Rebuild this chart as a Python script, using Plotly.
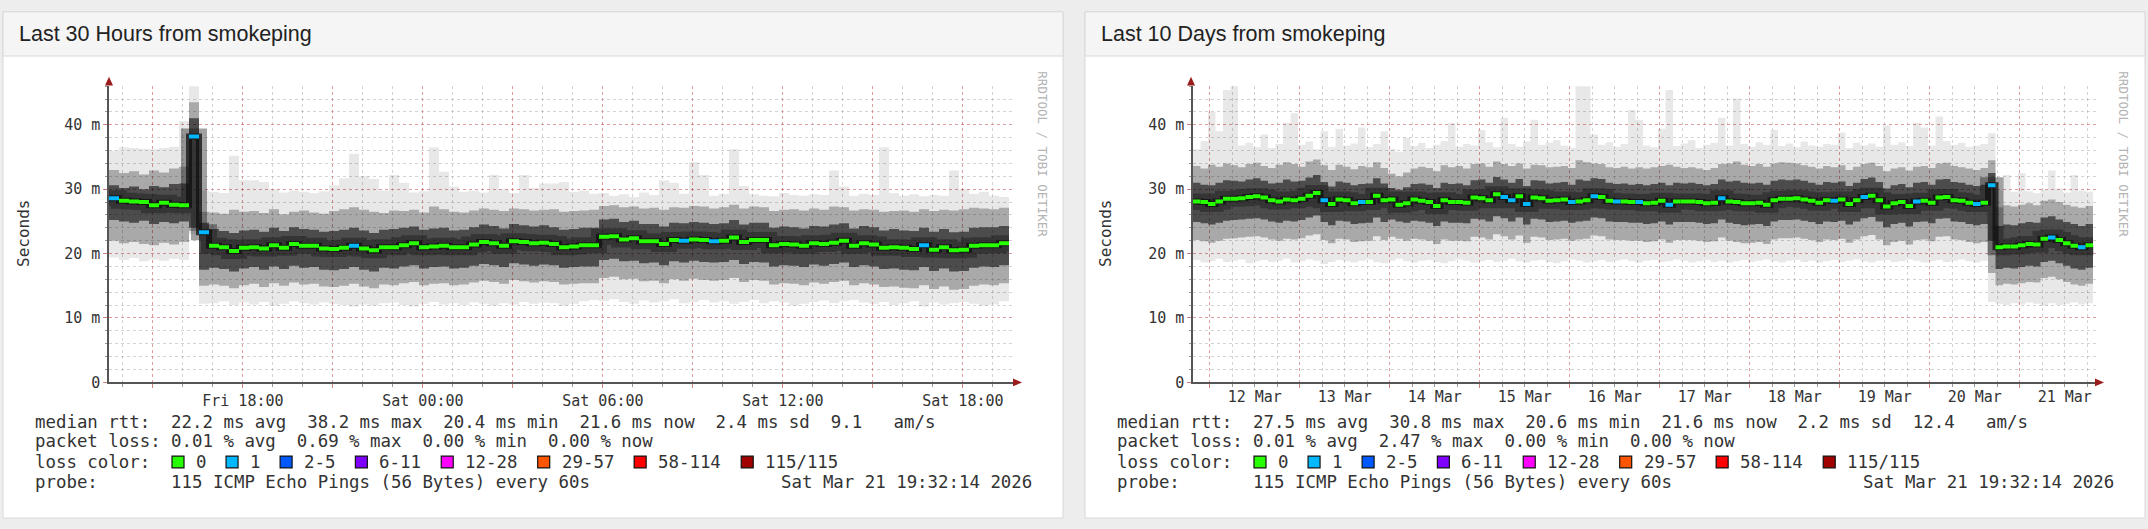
import pandas as pd
import plotly.graph_objects as go

W, H = 2148, 529

def px(x):
    return x / W

def py(y):
    return 1 - y / H

''' Data read off the two smokeping graphs (values in ms) '''
end_time = '2026-03-21 19:32:14'
start_30h = '2026-03-20 13:32:14'   # 20 min steps
start_10d = '2026-03-11 19:32:14'   # 2 h steps

## Last 30 hours
med_30h = [28.6, 28.2, 28.1, 28.0, 27.5, 27.9, 27.6, 27.5, 38.2, 23.3,
           21.2, 21.0, 20.4, 20.9, 21.0, 20.8, 21.3, 20.9, 21.5, 21.2,
           21.2, 20.8, 20.7, 20.9, 21.2, 20.8, 20.5, 21.0, 21.0, 21.3,
           21.6, 21.0, 21.1, 21.2, 21.0, 21.0, 21.4, 21.8, 21.6, 21.2,
           21.9, 21.8, 21.6, 21.7, 21.5, 21.0, 21.1, 21.3, 21.3, 22.6,
           22.7, 22.2, 22.4, 21.9, 21.9, 21.5, 22.1, 22.0, 22.2, 22.1,
           21.9, 22.0, 22.5, 21.8, 22.1, 22.1, 21.3, 21.5, 21.4, 21.2,
           21.6, 21.5, 21.7, 22.0, 21.2, 21.6, 21.4, 20.9, 21.0, 20.9,
           20.7, 21.3, 20.6, 21.0, 20.5, 20.6, 21.2, 21.3, 21.3, 21.6]
loss_30h = [1, 0, 0, 0, 0, 0, 0, 0, 1, 1,
            0, 0, 0, 0, 0, 0, 0, 0, 0, 0,
            0, 0, 0, 0, 1, 0, 0, 0, 0, 0,
            0, 0, 0, 0, 0, 0, 0, 0, 0, 0,
            0, 0, 0, 0, 0, 0, 0, 0, 0, 0,
            0, 0, 0, 0, 0, 0, 0, 1, 0, 0,
            1, 0, 0, 0, 0, 0, 0, 0, 0, 0,
            0, 0, 0, 0, 0, 0, 0, 0, 0, 0,
            0, 1, 0, 0, 0, 0, 0, 0, 0, 0]
hi_30h = [36.0, 36.5, 36.4, 36.3, 36.2, 36.4, 36.6, 40.6, 46.0, 29.8,
          29.6, 29.4, 35.2, 31.4, 31.4, 31.1, 30.0, 29.5, 29.8, 29.6,
          29.4, 29.7, 30.6, 31.7, 35.5, 32.0, 31.6, 29.8, 32.2, 31.0,
          29.5, 29.7, 36.5, 32.7, 30.4, 29.6, 29.8, 29.5, 32.2, 30.0,
          29.4, 32.2, 30.2, 30.9, 30.9, 31.1, 29.6, 29.8, 29.3, 29.4,
          29.0, 29.2, 28.8, 29.5, 29.1, 31.4, 31.0, 29.3, 34.2, 32.2,
          29.0, 29.3, 36.2, 30.5, 29.2, 29.0, 28.9, 29.4, 29.1, 29.0,
          29.2, 29.1, 32.9, 30.4, 29.0, 29.3, 29.1, 36.5, 29.4, 29.0,
          29.2, 28.9, 29.1, 29.0, 32.9, 30.0, 29.3, 29.6, 29.0, 28.8]
up_30h = [33.0, 32.5, 32.8, 32.3, 32.9, 32.6, 33.2, 33.5, 43.5, 26.5,
          26.4, 26.2, 26.8, 26.5, 26.6, 26.3, 26.9, 26.1, 26.5, 26.7,
          26.4, 26.2, 26.6, 26.9, 27.2, 26.8, 26.5, 26.3, 26.7, 26.6,
          26.8, 26.4, 27.3, 26.9, 26.5, 26.4, 26.7, 27.0, 26.8, 26.6,
          27.0, 26.9, 26.7, 26.8, 26.9, 26.5, 26.6, 26.7, 26.8, 27.4,
          27.5, 27.2, 27.3, 27.0, 27.1, 26.8, 27.2, 27.1, 27.4, 27.3,
          27.0, 27.2, 27.6, 27.0, 27.3, 27.2, 26.6, 26.8, 26.9, 26.7,
          27.0, 26.8, 27.3, 27.2, 26.7, 26.9, 26.8, 26.5, 26.6, 26.7,
          26.5, 26.9, 26.6, 26.8, 26.7, 26.9, 27.1, 27.0, 26.9, 27.1]
cup_30h = [30.6, 30.2, 30.4, 30.0, 30.5, 30.3, 30.8, 30.9, 41.0, 24.8,
           23.8, 23.5, 23.2, 23.6, 23.7, 23.4, 24.0, 23.5, 24.1, 23.8,
           23.7, 23.4, 23.5, 23.7, 24.0, 23.6, 23.2, 23.7, 23.8, 24.0,
           24.2, 23.7, 23.9, 24.0, 23.6, 23.7, 24.1, 24.5, 24.3, 23.9,
           24.6, 24.4, 24.2, 24.4, 24.1, 23.7, 23.8, 24.0, 24.0, 25.3,
           25.4, 24.9, 25.1, 24.6, 24.6, 24.2, 24.8, 24.7, 24.9, 24.8,
           24.6, 24.7, 25.2, 24.5, 24.8, 24.8, 24.0, 24.2, 24.1, 23.9,
           24.3, 24.2, 24.5, 24.7, 23.9, 24.3, 24.1, 23.6, 23.8, 23.6,
           23.5, 24.0, 23.4, 23.8, 23.3, 23.4, 24.0, 24.1, 24.1, 24.3]
cdn_30h = [25.2, 25.0, 24.8, 25.1, 24.6, 24.9, 24.7, 25.0, 24.0, 17.5,
           17.8, 17.6, 17.2, 17.7, 17.9, 17.5, 18.0, 17.6, 18.1, 17.8,
           17.9, 17.5, 17.4, 17.6, 17.9, 17.5, 17.2, 17.8, 17.7, 18.0,
           18.2, 17.7, 17.9, 18.0, 17.7, 17.8, 18.1, 18.4, 18.2, 17.9,
           18.5, 18.3, 18.1, 18.3, 18.2, 17.8, 17.9, 18.0, 18.0, 19.0,
           19.2, 18.8, 18.9, 18.5, 18.6, 18.2, 18.8, 18.6, 18.9, 18.7,
           18.6, 18.7, 19.0, 18.4, 18.7, 18.6, 18.0, 18.2, 18.1, 17.9,
           18.3, 18.1, 18.4, 18.6, 17.9, 18.2, 18.0, 17.6, 17.7, 17.5,
           17.4, 17.9, 17.3, 17.7, 17.2, 17.3, 17.8, 18.0, 17.9, 18.2]
dn_30h = [22.0, 21.6, 21.8, 21.5, 21.3, 21.7, 21.4, 21.8, 23.5, 15.0,
          15.2, 15.0, 14.6, 15.1, 15.3, 14.8, 15.4, 15.0, 15.5, 15.2,
          15.3, 14.9, 14.8, 15.0, 15.3, 14.9, 14.6, 15.2, 15.1, 15.4,
          15.6, 15.1, 15.3, 15.4, 15.1, 15.2, 15.5, 15.8, 15.6, 15.3,
          15.9, 15.7, 15.5, 15.7, 15.6, 15.2, 15.3, 15.4, 15.4, 16.2,
          16.4, 16.0, 16.1, 15.7, 15.8, 15.4, 16.0, 15.8, 16.1, 15.9,
          15.8, 15.9, 16.2, 15.6, 15.9, 15.8, 15.2, 15.4, 15.3, 15.1,
          15.5, 15.3, 15.6, 15.8, 15.1, 15.4, 15.2, 14.8, 14.9, 14.7,
          14.6, 15.1, 14.5, 14.9, 14.4, 14.5, 15.0, 15.2, 15.1, 15.4]
lo_30h = [19.4, 19.0, 19.3, 18.8, 19.1, 18.9, 19.2, 19.0, 23.0, 12.2,
          12.3, 12.6, 12.0, 12.4, 12.1, 12.5, 11.9, 12.2, 12.6, 12.3,
          12.1, 12.4, 12.2, 12.0, 11.8, 12.1, 11.9, 12.3, 12.4, 12.0,
          11.8, 12.2, 12.5, 12.1, 12.3, 12.0, 12.4, 12.2, 11.9, 12.3,
          12.1, 12.5, 12.2, 12.4, 12.3, 11.9, 12.2, 12.6, 12.8, 12.6,
          12.9, 12.5, 12.2, 12.7, 12.4, 12.6, 12.9, 12.3, 12.5, 12.8,
          12.4, 12.6, 12.2, 12.5, 12.8, 12.3, 12.6, 12.4, 11.9, 12.2,
          12.5, 12.7, 12.3, 12.6, 12.8, 12.4, 12.2, 12.5, 12.0, 12.3,
          12.6, 11.8, 12.4, 12.1, 12.3, 12.5, 12.2, 11.9, 12.1, 12.6]

## Last 10 days
med_10d = [28.1, 28.0, 27.7, 28.1, 28.5, 28.5, 28.6, 28.8, 28.9, 28.7,
           28.3, 28.1, 28.4, 28.3, 28.5, 29.0, 29.4, 28.3, 27.7, 28.4,
           28.3, 27.8, 28.0, 28.0, 29.0, 28.3, 28.4, 27.6, 27.8, 28.4,
           28.2, 28.0, 27.4, 28.3, 28.0, 28.0, 27.9, 28.7, 28.6, 28.3,
           29.2, 28.8, 28.3, 28.9, 27.7, 28.7, 28.6, 28.2, 28.3, 28.4,
           28.0, 28.1, 28.3, 28.9, 28.8, 28.2, 28.1, 28.1, 28.0, 28.0,
           27.8, 27.9, 28.2, 27.6, 28.1, 28.1, 28.1, 28.0, 27.8, 27.9,
           28.6, 28.1, 28.0, 27.8, 27.8, 27.9, 27.6, 28.3, 28.5, 28.5,
           28.6, 28.4, 28.2, 27.9, 28.3, 28.2, 28.4, 27.7, 28.3, 28.8,
           29.0, 28.3, 27.3, 27.8, 28.0, 27.4, 28.1, 28.2, 27.9, 28.7,
           28.8, 28.3, 28.2, 27.9, 27.7, 27.9, 30.6, 21.0, 21.1, 21.1,
           21.3, 21.5, 21.4, 22.3, 22.5, 22.1, 21.6, 21.2, 21.0, 21.3]
loss_10d = [0, 0, 0, 0, 0, 0, 0, 0, 0, 0,
            0, 0, 0, 0, 0, 0, 0, 1, 0, 0,
            0, 0, 1, 0, 0, 0, 0, 0, 0, 0,
            0, 0, 0, 0, 0, 0, 0, 0, 0, 0,
            0, 1, 1, 0, 1, 0, 0, 0, 0, 0,
            1, 0, 0, 1, 0, 0, 1, 0, 0, 1,
            0, 0, 0, 1, 0, 0, 0, 0, 0, 0,
            1, 0, 0, 0, 0, 0, 0, 0, 0, 0,
            0, 0, 0, 0, 0, 1, 0, 0, 0, 1,
            0, 0, 0, 0, 0, 0, 1, 0, 0, 0,
            0, 0, 0, 0, 1, 0, 1, 0, 0, 0,
            0, 0, 0, 0, 1, 0, 0, 0, 1, 0]
hi_10d = [36.2, 37.5, 42.0, 39.0, 45.4, 46.0, 36.8, 37.2, 36.5, 38.5,
          36.4, 37.0, 40.3, 41.8, 36.9, 37.4, 36.2, 39.0, 36.6, 39.4,
          36.8, 37.1, 39.6, 36.5, 37.0, 39.0, 36.3, 35.8, 38.0, 36.7,
          37.2, 36.4, 36.9, 37.5, 40.3, 36.6, 37.0, 36.8, 39.2, 37.3,
          36.5, 41.1, 37.0, 36.6, 37.4, 40.8, 36.9, 37.2, 37.6, 36.8,
          36.4, 46.0, 46.0, 38.5, 36.9, 37.3, 36.6, 37.0, 42.3, 40.8,
          36.8, 36.5, 39.4, 45.4, 36.7, 37.1, 37.6, 36.4, 36.9, 37.2,
          41.1, 36.8, 44.1, 37.0, 36.6, 37.3, 36.9, 39.2, 36.7, 37.1,
          36.5, 37.4, 36.8, 36.6, 37.0, 36.9, 38.8, 36.4, 37.2, 36.8,
          37.1, 36.6, 39.9, 36.9, 37.3, 36.7, 40.3, 39.6, 36.8, 41.3,
          37.5, 36.9, 37.2, 36.6, 36.8, 37.0, 38.7, 29.8, 32.2, 29.6,
          32.5, 29.7, 29.4, 29.9, 32.9, 30.1, 29.5, 32.2, 29.8, 29.6]
up_10d = [33.6, 33.2, 33.8, 33.5, 34.0, 33.7, 33.4, 33.9, 34.1, 33.6,
          33.3, 33.8, 34.2, 33.9, 33.5, 34.3, 34.6, 33.7, 33.0, 33.8,
          33.5, 33.1, 33.6, 33.4, 34.2, 33.3, 32.4, 32.0, 32.6, 33.2,
          33.5, 33.3, 32.8, 33.7, 33.4, 33.6, 33.2, 33.9, 34.0, 33.5,
          34.3, 33.9, 33.6, 34.0, 33.2, 33.8, 33.7, 33.4, 33.5, 33.6,
          33.3, 34.5, 34.2, 34.0, 33.9, 33.4, 33.3, 33.5, 33.2, 33.4,
          33.2, 33.4, 33.6, 33.8, 33.5, 33.3, 33.4, 33.2, 33.0, 33.3,
          33.9, 34.0, 34.3, 33.8, 33.6, 33.9, 33.5, 34.0, 34.2, 34.1,
          34.0, 33.7, 33.5, 33.2, 33.6, 33.4, 33.7, 33.0, 33.5, 33.9,
          34.1, 33.6, 32.8, 33.2, 33.4, 32.9, 33.5, 33.6, 33.3, 34.0,
          34.1, 33.6, 33.4, 33.2, 33.0, 33.3, 34.5, 27.2, 27.5, 27.3,
          27.6, 27.8, 27.5, 28.2, 28.4, 28.0, 27.6, 27.3, 27.1, 27.4]
cup_10d = [31.0, 30.7, 30.6, 31.0, 31.4, 31.3, 31.2, 31.5, 31.7, 31.3,
           30.9, 31.0, 31.5, 31.2, 31.3, 31.8, 32.2, 31.1, 30.4, 31.2,
           31.0, 30.6, 30.8, 30.9, 31.7, 30.9, 30.2, 29.9, 30.3, 30.8,
           30.9, 30.7, 30.2, 31.0, 30.8, 30.9, 30.6, 31.4, 31.5, 31.0,
           31.9, 31.5, 31.0, 31.6, 30.5, 31.4, 31.3, 30.9, 31.0, 31.1,
           30.7, 31.5, 31.3, 31.7, 31.6, 31.0, 30.8, 30.9, 30.7, 30.8,
           30.6, 30.8, 31.0, 30.6, 31.0, 30.9, 31.0, 30.8, 30.6, 30.8,
           31.5, 31.2, 31.3, 31.0, 30.9, 31.0, 30.7, 31.3, 31.5, 31.4,
           31.5, 31.3, 31.0, 30.7, 31.1, 31.0, 31.2, 30.5, 31.0, 31.6,
           31.8, 31.1, 30.1, 30.6, 30.8, 30.3, 31.0, 31.1, 30.7, 31.5,
           31.6, 31.1, 31.0, 30.7, 30.5, 30.7, 32.5, 24.3, 24.5, 24.4,
           24.7, 24.9, 24.8, 25.6, 25.8, 25.3, 24.9, 24.6, 24.3, 24.6]
cdn_10d = [24.9, 24.7, 24.5, 24.8, 25.1, 25.2, 25.3, 25.4, 25.5, 25.3,
           25.0, 24.8, 25.1, 25.0, 25.2, 25.6, 25.9, 24.9, 24.4, 25.1,
           25.0, 24.6, 24.7, 24.8, 25.6, 24.9, 25.3, 25.0, 24.8, 25.1,
           25.0, 24.8, 24.3, 25.0, 24.8, 24.8, 24.7, 25.4, 25.3, 25.0,
           25.8, 25.5, 25.0, 25.6, 24.5, 25.4, 25.3, 24.9, 25.0, 25.1,
           24.8, 25.0, 25.1, 25.6, 25.5, 25.0, 24.9, 24.9, 24.8, 24.8,
           24.6, 24.7, 25.0, 24.5, 24.9, 24.9, 24.9, 24.8, 24.6, 24.7,
           25.3, 24.8, 24.6, 24.4, 24.5, 24.6, 24.3, 25.0, 25.2, 25.2,
           25.3, 25.1, 24.9, 24.6, 25.0, 24.9, 25.1, 24.5, 25.0, 25.5,
           25.7, 25.0, 24.1, 24.6, 24.8, 24.2, 24.9, 25.0, 24.7, 25.4,
           25.5, 25.0, 24.9, 24.6, 24.4, 24.6, 22.0, 17.6, 17.8, 17.7,
           17.9, 18.1, 18.0, 18.7, 18.9, 18.5, 18.1, 17.7, 17.5, 17.8]
dn_10d = [22.1, 21.9, 21.7, 22.0, 22.3, 22.4, 22.5, 22.6, 22.7, 22.5,
          22.2, 22.0, 22.3, 22.2, 22.4, 22.8, 23.0, 22.1, 21.6, 22.3,
          22.2, 21.8, 21.9, 22.0, 22.7, 22.1, 22.6, 22.3, 22.0, 22.3,
          22.2, 22.0, 21.5, 22.2, 22.0, 22.0, 21.9, 22.6, 22.5, 22.2,
          23.0, 22.7, 22.2, 22.8, 21.7, 22.6, 22.5, 22.1, 22.2, 22.3,
          22.0, 22.2, 22.3, 22.8, 22.7, 22.2, 22.1, 22.1, 22.0, 22.0,
          21.8, 21.9, 22.2, 21.7, 22.1, 22.1, 22.1, 22.0, 21.8, 21.9,
          22.5, 22.0, 21.8, 21.6, 21.7, 21.8, 21.5, 22.2, 22.4, 22.4,
          22.5, 22.3, 22.1, 21.8, 22.2, 22.1, 22.3, 21.7, 22.2, 22.7,
          22.9, 22.2, 21.3, 21.8, 22.0, 21.4, 22.1, 22.2, 21.9, 22.6,
          22.7, 22.2, 22.1, 21.8, 21.6, 21.8, 17.0, 15.1, 15.3, 15.2,
          15.4, 15.6, 15.5, 16.2, 16.4, 16.0, 15.6, 15.2, 15.0, 15.3]
lo_10d = [19.0, 18.6, 18.8, 19.2, 18.7, 18.9, 19.1, 18.5, 18.8, 19.0,
          18.7, 18.9, 19.2, 18.6, 18.8, 19.1, 18.9, 18.4, 18.7, 19.0,
          18.8, 18.6, 18.9, 19.1, 18.7, 18.5, 18.9, 19.2, 18.8, 18.6,
          18.9, 19.0, 18.7, 18.5, 18.8, 19.1, 18.9, 18.6, 18.8, 19.0,
          18.7, 18.9, 19.2, 18.8, 18.6, 18.9, 19.0, 18.7, 18.5, 18.8,
          19.1, 18.9, 18.6, 18.8, 19.0, 18.7, 18.9, 19.1, 18.8, 18.6,
          18.9, 19.0, 18.7, 18.8, 19.1, 18.9, 18.6, 18.8, 19.0, 18.7,
          18.9, 18.6, 18.8, 19.0, 18.7, 18.9, 19.1, 18.8, 18.6, 18.9,
          19.0, 18.7, 18.9, 18.6, 18.8, 19.0, 18.7, 18.9, 19.1, 18.8,
          18.6, 18.9, 19.0, 18.7, 18.8, 19.1, 18.9, 18.6, 18.8, 19.0,
          18.7, 18.9, 19.1, 18.8, 18.6, 18.9, 12.5, 12.2, 12.0, 12.3,
          12.1, 12.4, 12.2, 11.9, 12.3, 12.0, 12.2, 12.4, 12.1, 12.3]

## Legend texts
rtt_30h = ['22.2', '38.2', '20.4', '21.6', '2.4', '9.1']
pl_30h = ['0.01', '0.69', '0.00', '0.00']
rtt_10d = ['27.5', '30.8', '20.6', '21.6', '2.2', '12.4']
pl_10d = ['0.01', '2.47', '0.00', '0.00']
loss_labels = ['0', '1', '2-5', '6-11', '12-28', '29-57', '58-114', '115/115']
loss_colors = ['#26ff00', '#00b8ff', '#0059ff', '#7e00ff', '#ff00ff', '#ff5500', '#ff0000', '#a10000']
y_ticks = [0, 10, 20, 30, 40]
y_ticktext = ['0', '10 m', '20 m', '30 m', '40 m']

MONO = 'DejaVu Sans Mono'
RED_GRID = 'rgba(255,0,0,0.26)'
GREY_GRID = 'rgba(150,150,150,0.42)'
TXT = 17.4

fig = go.Figure()


def add_smoke(t, lo, dn, cdn, cup, up, hi, med, loss, xa, ya, xm):
    xs = list(t) + [pd.Timestamp(end_time)]
    ext = lambda v: list(v) + [v[-1]]
    for a, b, col in [(lo, hi, 'rgba(0,0,0,0.09)'), (dn, up, 'rgba(0,0,0,0.27)'),
                      (cdn, cup, 'rgba(0,0,0,0.55)')]:
        fig.add_trace(go.Scatter(x=xs, y=ext(a), mode='lines', line=dict(width=0, shape='hv'),
                                 xaxis=xa, yaxis=ya, hoverinfo='skip', showlegend=False))
        fig.add_trace(go.Scatter(x=xs, y=ext(b), mode='lines', line=dict(width=0, shape='hv'),
                                 fill='tonexty', fillcolor=col,
                                 xaxis=xa, yaxis=ya, hoverinfo='skip', showlegend=False))
    # dark core round the median
    fig.add_trace(go.Scatter(x=xs, y=ext(med), mode='lines',
                             line=dict(width=16, shape='hv', color='rgba(20,20,20,0.4)'),
                             xaxis=xa, yaxis=ya, hoverinfo='skip', showlegend=False))
    fig.add_trace(go.Scatter(x=xs, y=ext(med), mode='lines',
                             line=dict(width=6, shape='hv', color='rgba(15,15,15,0.75)'),
                             xaxis=xa, yaxis=ya, hoverinfo='skip', showlegend=False))
    # median, coloured by loss
    for lv, col in [(0, loss_colors[0]), (1, loss_colors[1])]:
        sx, sy = [], []
        for i, m in enumerate(med):
            if loss[i] == lv:
                sx += [xs[i], xs[i + 1], None]
                sy += [m, m, None]
        fig.add_trace(go.Scatter(x=sx, y=sy, mode='lines', line=dict(width=4, color=col),
                                 xaxis=xm, yaxis=ya, hoverinfo='skip', showlegend=False,
                                 connectgaps=False))


t30 = pd.date_range(start_30h, periods=len(med_30h), freq='20min')
t10 = pd.date_range(start_10d, periods=len(med_10d), freq='2h')
add_smoke(t30, lo_30h, dn_30h, cdn_30h, cup_30h, up_30h, hi_30h, med_30h, loss_30h, 'x', 'y', 'x')
add_smoke(t10, lo_10d, dn_10d, cdn_10d, cup_10d, up_10d, hi_10d, med_10d, loss_10d, 'x2', 'y2', 'x3')

## axes
maj30 = pd.date_range('2026-03-20 15:00', '2026-03-21 18:00', freq='3h')
maj30_txt = [t.strftime('%a %H:%M') if t.hour % 6 == 0 else '' for t in maj30]
days = pd.date_range('2026-03-12', '2026-03-21', freq='D')
noons = days + pd.Timedelta(hours=12)
noon_txt = [f'{t.day} Mar' for t in noons]

tickfont = dict(family=MONO, size=15, color='#333')
xcommon = dict(type='date', showgrid=True, gridcolor=RED_GRID, griddash='dot', gridwidth=1,
               ticks='outside', ticklen=4, tickcolor='#d08080', tickfont=tickfont,
               showline=True, linecolor='#555', linewidth=1.5, zeroline=False, fixedrange=True)
ycommon = dict(range=[0, 46.1], tickmode='array', tickvals=y_ticks, ticktext=y_ticktext,
               showgrid=True, gridcolor=RED_GRID, griddash='dot', gridwidth=1,
               minor=dict(dtick=2, showgrid=True, gridcolor=GREY_GRID, griddash='dot',
                          ticks='outside', ticklen=2, tickcolor='#999'),
               ticks='outside', ticklen=4, tickcolor='#d08080', tickfont=tickfont,
               showline=True, linecolor='#555', linewidth=1.5, zeroline=False, fixedrange=True)

fig.update_layout(
    xaxis=dict(xcommon, domain=[px(109), px(1013)], anchor='y',
               range=[start_30h, '2026-03-21 19:40:14'],
               tickmode='array', tickvals=list(maj30), ticktext=maj30_txt,
               minor=dict(dtick=3600000, tick0='2026-03-20 00:00:00', showgrid=True,
                          gridcolor=GREY_GRID, griddash='dot', ticks='outside',
                          ticklen=3, tickcolor='#999')),
    yaxis=dict(ycommon, domain=[py(389), py(87)], anchor='x'),
    xaxis2=dict(xcommon, domain=[px(1193), px(2097)], anchor='y2',
                range=[start_10d, '2026-03-21 20:36:14'],
                tickmode='array', tickvals=list(days), ticktext=[''] * len(days),
                minor=dict(dtick=21600000, tick0='2026-03-12 00:00:00', showgrid=True,
                           gridcolor=GREY_GRID, griddash='dot', ticks='outside',
                           ticklen=3, tickcolor='#999')),
    xaxis3=dict(type='date', overlaying='x2', anchor='y2', matches='x2',
                range=[start_10d, '2026-03-21 20:36:14'],
                tickmode='array', tickvals=list(noons), ticktext=noon_txt,
                showgrid=False, ticks='', showline=False, zeroline=False,
                tickfont=tickfont, ticklabelstandoff=4, fixedrange=True),
    yaxis2=dict(ycommon, domain=[py(389), py(87)], anchor='x2'),
)

## panels, headers, arrows, legend swatches
shapes = []
annos = []
for (x0, x1, title, rtt, pl, wm_x) in [
        (3, 1063, 'Last 30 Hours from smokeping', rtt_30h, pl_30h, 1043),
        (1085, 2145, 'Last 10 Days from smokeping', rtt_10d, pl_10d, 2124)]:
    shapes.append(dict(type='rect', xref='paper', yref='paper', layer='below',
                       x0=px(x0), x1=px(x1), y0=py(527), y1=py(12),
                       fillcolor='white', line=dict(color='#d8d8d8', width=1)))
    shapes.append(dict(type='rect', xref='paper', yref='paper', layer='below',
                       x0=px(x0), x1=px(x1), y0=py(57), y1=py(12),
                       fillcolor='#f5f5f5', line=dict(color='#d8d8d8', width=1)))
    annos.append(dict(text=title, xref='paper', yref='paper', x=px(x0 + 14), y=py(35),
                      xanchor='left', yanchor='middle', showarrow=False,
                      font=dict(family='Liberation Sans', size=21.5, color='#222')))
    ax = x0 + 106   # y axis position
    ex = x0 + 1010  # end of x axis
    # arrow heads
    shapes.append(dict(type='path', xref='paper', yref='paper', layer='above',
                       path=f'M {px(ax-4)},{py(87)} L {px(ax+4)},{py(87)} L {px(ax)},{py(78)} Z',
                       fillcolor='#9b1c1c', line=dict(width=0)))
    shapes.append(dict(type='path', xref='paper', yref='paper', layer='above',
                       path=f'M {px(ex)},{py(385)} L {px(ex)},{py(393)} L {px(ex+9)},{py(389)} Z',
                       fillcolor='#9b1c1c', line=dict(width=0)))
    annos.append(dict(text='Seconds', xref='paper', yref='paper', x=px(x0 + 21), y=py(238),
                      textangle=-90, showarrow=False, xanchor='center', yanchor='middle',
                      font=dict(family=MONO, size=16, color='#333')))
    annos.append(dict(text='RRDTOOL / TOBI OETIKER', xref='paper', yref='paper',
                      x=px(wm_x), y=py(157), textangle=90, showarrow=False,
                      xanchor='center', yanchor='middle',
                      font=dict(family=MONO, size=12.5, color='#b4b4b4')))
    tx = x0 + 30
    nb = '\u00a0'
    line1 = (f'median rtt:  {rtt[0]} ms avg  {rtt[1]} ms max  {rtt[2]} ms min  '
             f'{rtt[3]} ms now  {rtt[4]} ms sd  {rtt[5]}   am/s')
    line2 = f'packet loss: {pl[0]} % avg  {pl[1]} % max  {pl[2]} % min  {pl[3]} % now'
    line4 = 'probe:       115 ICMP Echo Pings (56 Bytes) every 60s'
    for txt, yy in [(line1, 429), (line2, 449), ('loss color:', 470), (line4, 490)]:
        annos.append(dict(text=txt.replace(' ', nb), xref='paper', yref='paper',
                          x=px(tx), y=py(yy), xanchor='left', yanchor='middle',
                          showarrow=False, font=dict(family=MONO, size=TXT, color='#333')))
    annos.append(dict(text='Sat Mar 21 19:32:14 2026'.replace(' ', nb), xref='paper', yref='paper',
                      x=px(x0 + 776), y=py(490), xanchor='left', yanchor='middle',
                      showarrow=False, font=dict(family=MONO, size=TXT, color='#333')))
    lx = x0 + 191
    for lab, col in zip(loss_labels, loss_colors):
        shapes.append(dict(type='rect', xref='paper', yref='paper', layer='above',
                           x0=px(lx - 22), x1=px(lx - 10), y0=py(476), y1=py(464),
                           fillcolor=col, line=dict(color='#111', width=1.2)))
        annos.append(dict(text=lab, xref='paper', yref='paper', x=px(lx), y=py(470),
                          xanchor='left', yanchor='middle', showarrow=False,
                          font=dict(family=MONO, size=TXT, color='#333')))
        lx += (len(lab) + 4.1) * 10.6

fig.update_layout(width=W, height=H, margin=dict(l=0, r=0, t=0, b=0),
                  paper_bgcolor='#ededed', plot_bgcolor='white',
                  shapes=shapes, annotations=annos, showlegend=False)

fig.write_html('out.html', config={'displayModeBar': False},
               post_script="document.body.style.margin='0px';"
                           "document.body.style.background='#ededed';"
                           "document.body.style.overflow='hidden';")
